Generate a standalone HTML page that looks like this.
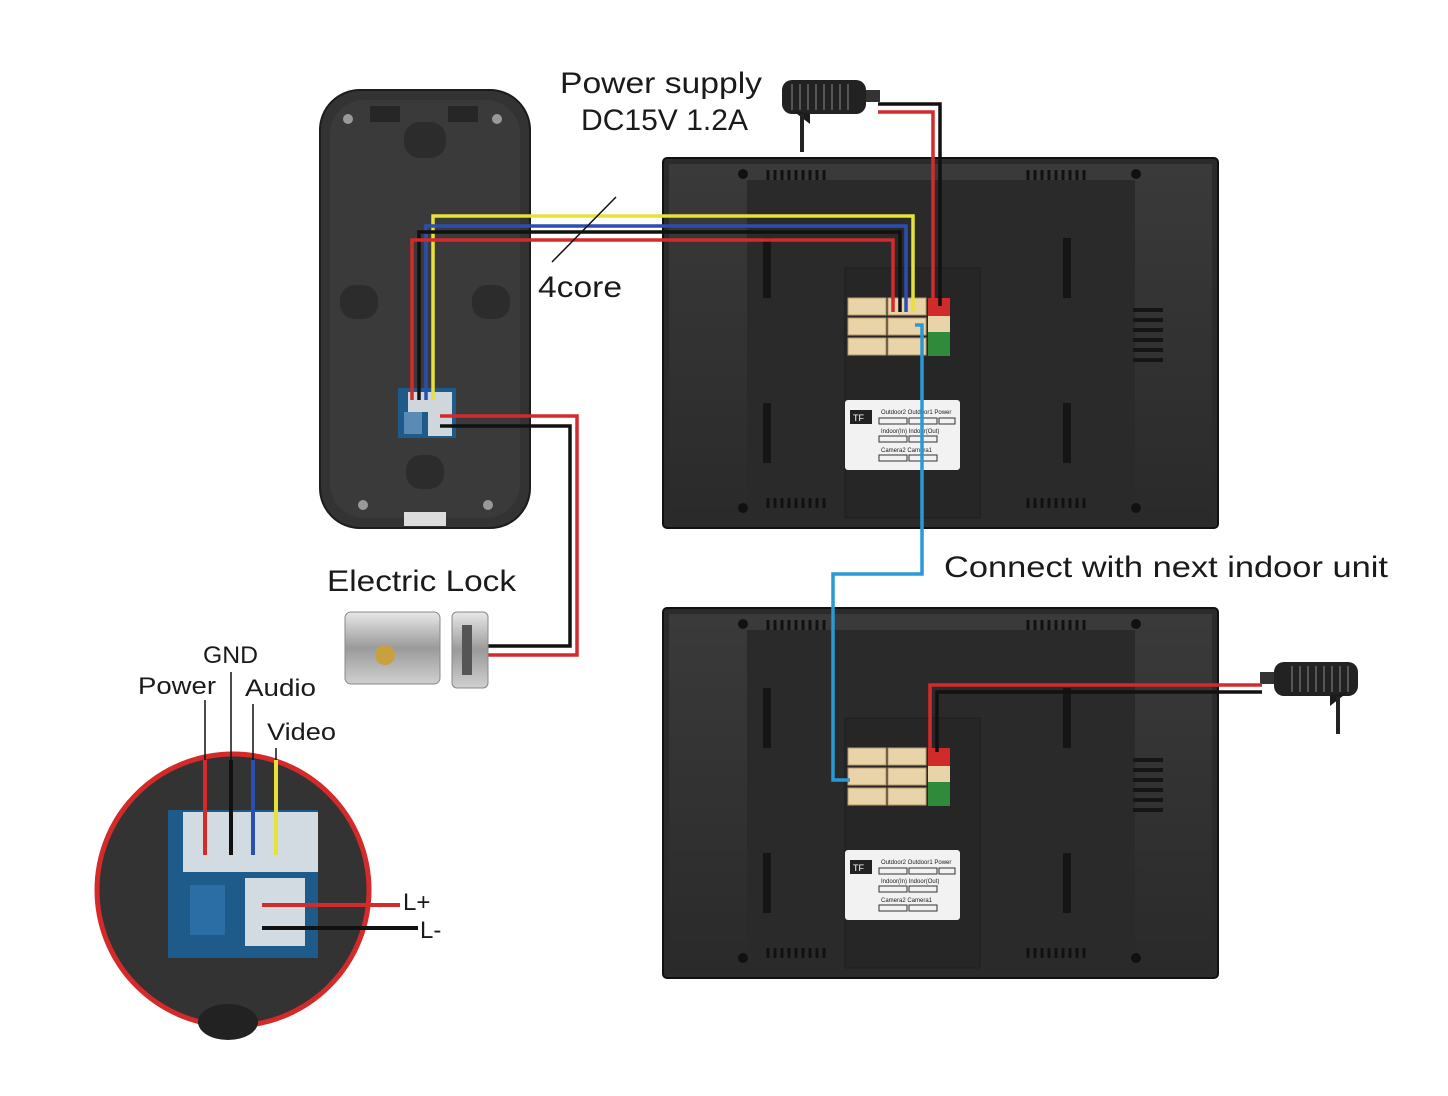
<!DOCTYPE html>
<html><head><meta charset="utf-8"><style>
html,body{margin:0;padding:0;background:#fff;}
svg{display:block}
text{font-family:"Liberation Sans",sans-serif;fill:#1a1a1a;}
</style></head><body>
<svg width="1448" height="1096" viewBox="0 0 1448 1096" xmlns="http://www.w3.org/2000/svg">
<defs>
<linearGradient id="mon" x1="0" y1="0" x2="0" y2="1"><stop offset="0" stop-color="#3a3a3a"/><stop offset="1" stop-color="#2a2a2a"/></linearGradient>
<linearGradient id="lk" x1="0" y1="0" x2="0" y2="1"><stop offset="0" stop-color="#e8e8e8"/><stop offset="0.5" stop-color="#9a9a9a"/><stop offset="1" stop-color="#d0d0d0"/></linearGradient>
<g id="monitor">
 <rect x="0" y="0" width="555" height="370" rx="4" fill="#2b2b2b" stroke="#111" stroke-width="2"/>
 <rect x="6" y="6" width="543" height="358" fill="url(#mon)"/>
 <rect x="84" y="22" width="388" height="330" fill="#2a2a2a"/>
 <rect x="182" y="110" width="135" height="250" fill="#262626" stroke="#1e1e1e"/>
 <g fill="#151515">
  <rect x="100" y="80" width="8" height="60"/><rect x="100" y="245" width="8" height="60"/>
  <rect x="400" y="80" width="8" height="60"/><rect x="400" y="245" width="8" height="60"/>
  <rect x="470" y="150" width="30" height="4"/><rect x="470" y="160" width="30" height="4"/><rect x="470" y="170" width="30" height="4"/><rect x="470" y="180" width="30" height="4"/><rect x="470" y="190" width="30" height="4"/><rect x="470" y="200" width="30" height="4"/>
 </g>
 <g fill="#111"><circle cx="80" cy="16" r="5"/><circle cx="473" cy="16" r="5"/><circle cx="80" cy="350" r="5"/><circle cx="473" cy="350" r="5"/></g>
 <g stroke="#111" stroke-width="3"><path d="M105 12v10M112 12v10M119 12v10M126 12v10M133 12v10M140 12v10M147 12v10M154 12v10M161 12v10"/><path d="M365 12v10M372 12v10M379 12v10M386 12v10M393 12v10M400 12v10M407 12v10M414 12v10M421 12v10"/>
 <path d="M105 340v10M112 340v10M119 340v10M126 340v10M133 340v10M140 340v10M147 340v10M154 340v10M161 340v10"/><path d="M365 340v10M372 340v10M379 340v10M386 340v10M393 340v10M400 340v10M407 340v10M414 340v10M421 340v10"/></g>
 <g fill="#e9d3a8" stroke="#b89a68"><rect x="185" y="140" width="38" height="17"/><rect x="225" y="140" width="38" height="17"/><rect x="185" y="160" width="38" height="17"/><rect x="225" y="160" width="38" height="17"/><rect x="185" y="180" width="38" height="17"/><rect x="225" y="180" width="38" height="17"/></g>
 <rect x="265" y="140" width="22" height="18" fill="#d02a2a"/><rect x="265" y="158" width="22" height="16" fill="#e9d3a8"/><rect x="265" y="174" width="22" height="24" fill="#2f8a3a"/>
 <rect x="182" y="242" width="115" height="70" rx="3" fill="#f2f2f2"/>
 <rect x="187" y="252" width="22" height="14" fill="#222"/><text x="190" y="263" font-size="9" style="fill:#fff">TF</text>
 <g font-size="6"><text x="218" y="256">Outdoor2 Outdoor1 Power</text><text x="218" y="275">Indoor(In) Indoor(Out)</text><text x="218" y="294">Camera2 Camera1</text></g>
 <g fill="none" stroke="#333" stroke-width="1"><rect x="216" y="260" width="28" height="6"/><rect x="246" y="260" width="28" height="6"/><rect x="276" y="260" width="16" height="6"/><rect x="216" y="278" width="28" height="6"/><rect x="246" y="278" width="28" height="6"/><rect x="216" y="297" width="28" height="6"/><rect x="246" y="297" width="28" height="6"/></g>
</g>
<g id="adapter">
 <rect x="0" y="0" width="84" height="34" rx="10" fill="#222"/>
 <g stroke="#555" stroke-width="2"><path d="M10 4v26M18 4v26M26 4v26M34 4v26M42 4v26M50 4v26M58 4v26M66 4v26"/></g>
 <rect x="84" y="10" width="14" height="12" fill="#333"/>
 <path d="M10 30 L28 44 L28 34 Z" fill="#1a1a1a"/>
 <rect x="18" y="34" width="4" height="38" fill="#222"/>
</g>
</defs>

<rect x="320" y="90" width="210" height="438" rx="40" fill="#333" stroke="#1c1c1c" stroke-width="2"/>
<rect x="330" y="100" width="190" height="418" rx="34" fill="#3a3a3a"/>
<rect x="370" y="106" width="30" height="16" fill="#262626"/><rect x="448" y="106" width="30" height="16" fill="#262626"/>
<rect x="404" y="122" width="42" height="36" rx="16" fill="#2c2c2c"/>
<rect x="340" y="285" width="38" height="34" rx="15" fill="#2c2c2c"/><rect x="472" y="285" width="38" height="34" rx="15" fill="#2c2c2c"/>
<rect x="406" y="455" width="38" height="34" rx="15" fill="#2c2c2c"/>
<rect x="404" y="512" width="42" height="14" fill="#ddd"/>
<g fill="#999"><circle cx="348" cy="119" r="5"/><circle cx="497" cy="119" r="5"/><circle cx="363" cy="505" r="5"/><circle cx="488" cy="505" r="5"/></g>
<rect x="398" y="388" width="58" height="50" fill="#1e5b8a"/>
<rect x="408" y="392" width="44" height="20" fill="#cfd6dc"/><rect x="428" y="412" width="24" height="24" fill="#cfd6dc"/>
<rect x="404" y="412" width="18" height="22" fill="#5a8ab5"/>

<use href="#monitor" x="663" y="158"/>
<use href="#monitor" x="663" y="608"/>

<use href="#adapter" x="782" y="80"/>
<g transform="translate(1358,662) scale(-1,1)"><use href="#adapter"/></g>

<g fill="none" stroke-width="3.5">
 <path d="M433 400 V216 H913 V312" stroke="#e6e23a"/>
 <path d="M426 400 V226 H906 V312" stroke="#2a4fb0"/>
 <path d="M419 400 V232 H900 V312" stroke="#111"/>
 <path d="M412 400 V240 H893 V312" stroke="#d42a2a"/>
 <path d="M878 104 H940 V306" stroke="#111"/>
 <path d="M878 112 H933 V306" stroke="#d42a2a"/>
 <path d="M440 416 H577 V655 H488" stroke="#d42a2a"/>
 <path d="M440 426 H570 V646 H488" stroke="#111"/>
 <path d="M915 325 H922 V574 H833 V780 H850" stroke="#2a9ad6"/>
 <path d="M1262 685 H930 V752" stroke="#d42a2a"/>
 <path d="M1262 692 H937 V752" stroke="#111"/>
 <path d="M552 262 L616 197" stroke="#111" stroke-width="1.5"/>
</g>

<rect x="345" y="612" width="95" height="72" rx="6" fill="url(#lk)" stroke="#888"/>
<circle cx="385" cy="655" r="10" fill="#c9a040"/>
<rect x="452" y="612" width="36" height="76" rx="5" fill="url(#lk)" stroke="#888"/>
<rect x="462" y="625" width="10" height="50" fill="#555"/>

<circle cx="233" cy="890" r="136" fill="#333" stroke="#d42a2a" stroke-width="5"/>
<rect x="168" y="810" width="150" height="148" fill="#1e5b8a"/>
<rect x="183" y="812" width="135" height="60" fill="#d3dbe2"/>
<rect x="245" y="878" width="60" height="68" fill="#d3dbe2"/>
<rect x="190" y="885" width="35" height="50" fill="#2b6ea5"/>
<ellipse cx="228" cy="1022" rx="30" ry="18" fill="#222"/>
<g fill="none" stroke-width="4">
 <path d="M205 760 V855" stroke="#d42a2a"/><path d="M231 760 V855" stroke="#111"/>
 <path d="M253 760 V855" stroke="#2a4fb0"/><path d="M276 760 V855" stroke="#e6e23a"/>
 <path d="M262 905 H400" stroke="#d42a2a"/><path d="M262 928 H418" stroke="#111"/>
</g>
<g stroke="#111" stroke-width="1.5"><path d="M205 700 V760 M231 672 V760 M253 704 V760 M276 748 V760"/></g>

<g font-size="30">
<text x="560" y="93" textLength="202" lengthAdjust="spacingAndGlyphs">Power supply</text>
<text x="581" y="130" textLength="167" lengthAdjust="spacingAndGlyphs">DC15V 1.2A</text>
<text x="538" y="297" textLength="84" lengthAdjust="spacingAndGlyphs">4core</text>
<text x="327" y="591" textLength="189" lengthAdjust="spacingAndGlyphs">Electric Lock</text>
<text x="944" y="577" textLength="444" lengthAdjust="spacingAndGlyphs">Connect with next indoor unit</text>
</g>
<g font-size="24">
<text x="203" y="663" textLength="55" lengthAdjust="spacingAndGlyphs">GND</text>
<text x="138" y="694" textLength="78" lengthAdjust="spacingAndGlyphs">Power</text>
<text x="245" y="696" textLength="71" lengthAdjust="spacingAndGlyphs">Audio</text>
<text x="267" y="740" textLength="69" lengthAdjust="spacingAndGlyphs">Video</text>
<text x="403" y="910">L+</text>
<text x="420" y="938">L-</text>
</g>
</svg>
</body></html>
